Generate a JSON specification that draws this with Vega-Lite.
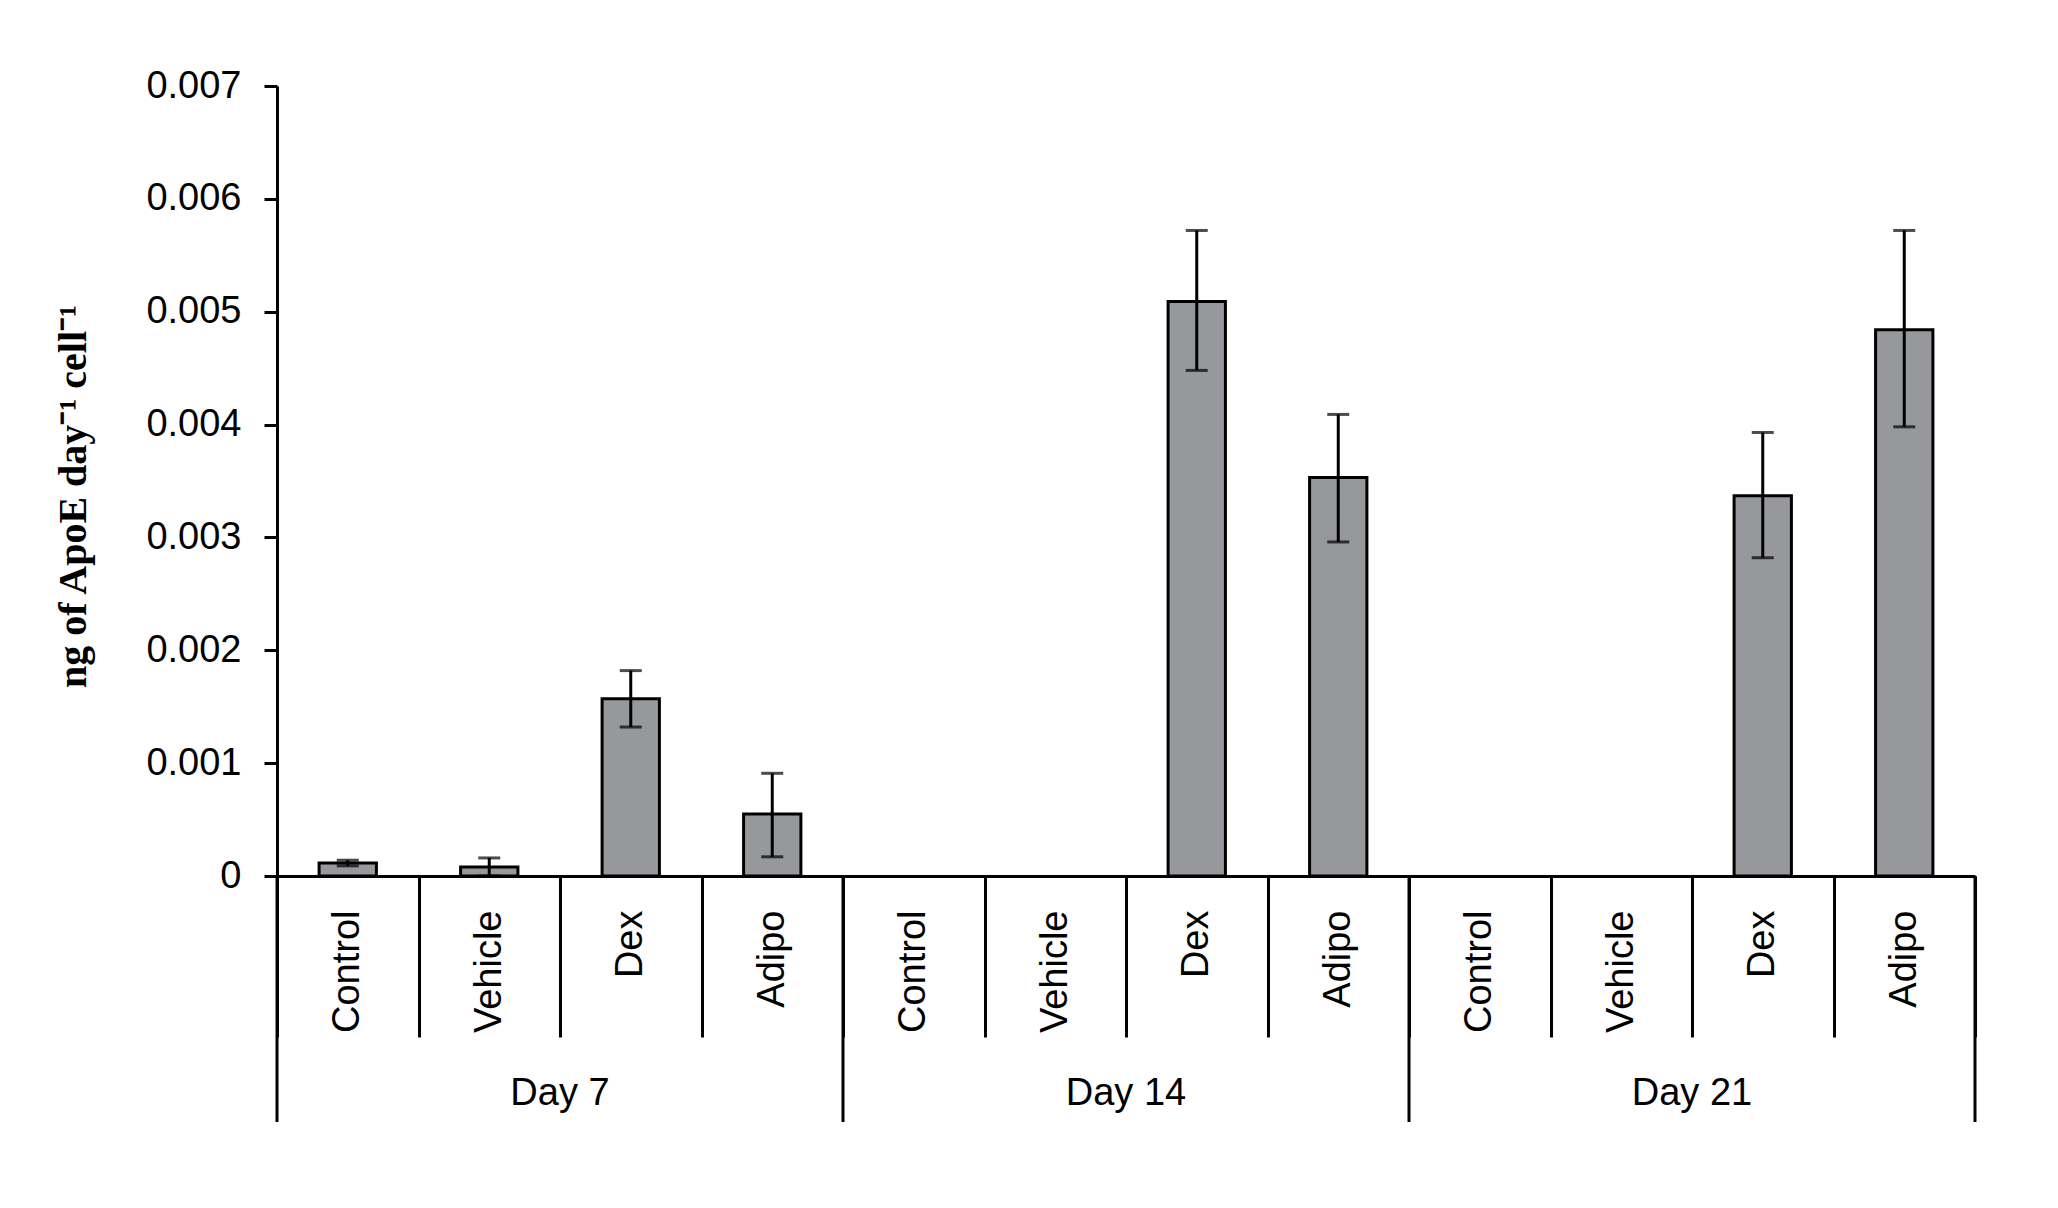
{
  "$schema": "https://vega.github.io/schema/vega-lite/v6.json",
  "width": 1698,
  "height": 790,
  "autosize": {"type": "none"},
  "padding": {"left": 277, "top": 86, "right": 83, "bottom": 332},
  "background": "white",
  "config": {
    "view": {"stroke": null},
    "font": "Liberation Sans"
  },
  "datasets": {
    "bars": [
      {"group": "Day 7 Control", "day": "Day 7", "treatment": "Control", "mean": 0.000115, "lower": 0.00009, "upper": 0.00014},
      {"group": "Day 7 Vehicle", "day": "Day 7", "treatment": "Vehicle", "mean": 0.00008, "lower": 0.0, "upper": 0.00016},
      {"group": "Day 7 Dex", "day": "Day 7", "treatment": "Dex", "mean": 0.00157, "lower": 0.00132, "upper": 0.00182},
      {"group": "Day 7 Adipo", "day": "Day 7", "treatment": "Adipo", "mean": 0.00055, "lower": 0.00017, "upper": 0.00091},
      {"group": "Day 14 Control", "day": "Day 14", "treatment": "Control", "mean": null, "lower": null, "upper": null},
      {"group": "Day 14 Vehicle", "day": "Day 14", "treatment": "Vehicle", "mean": null, "lower": null, "upper": null},
      {"group": "Day 14 Dex", "day": "Day 14", "treatment": "Dex", "mean": 0.00509, "lower": 0.00448, "upper": 0.00572},
      {"group": "Day 14 Adipo", "day": "Day 14", "treatment": "Adipo", "mean": 0.00353, "lower": 0.00296, "upper": 0.00409},
      {"group": "Day 21 Control", "day": "Day 21", "treatment": "Control", "mean": null, "lower": null, "upper": null},
      {"group": "Day 21 Vehicle", "day": "Day 21", "treatment": "Vehicle", "mean": null, "lower": null, "upper": null},
      {"group": "Day 21 Dex", "day": "Day 21", "treatment": "Dex", "mean": 0.00337, "lower": 0.00282, "upper": 0.00393},
      {"group": "Day 21 Adipo", "day": "Day 21", "treatment": "Adipo", "mean": 0.00484, "lower": 0.00398, "upper": 0.00572}
    ]
  },
  "data": {"name": "bars"},
  "layer": [
    {
      "mark": {"type": "bar", "fill": "#97989c", "stroke": "black", "strokeWidth": 3, "width": {"band": 0.405}},
      "encoding": {
        "x": {
          "field": "group",
          "type": "nominal",
          "title": null,
          "scale": {
            "domain": ["Day 7 Control", "Day 7 Vehicle", "Day 7 Dex", "Day 7 Adipo",
                       "Day 14 Control", "Day 14 Vehicle", "Day 14 Dex", "Day 14 Adipo",
                       "Day 21 Control", "Day 21 Vehicle", "Day 21 Dex", "Day 21 Adipo"],
            "paddingInner": 0,
            "paddingOuter": 0
          },
          "axis": {
            "labelExpr": "split(datum.label, ' ')[2]",
            "labelAngle": 270,
            "labelAlign": "right",
            "labelBaseline": "middle",
            "labelFontSize": 38,
            "labelColor": "black",
            "labelPadding": -127,
            "labelOverlap": false,
            "tickBand": "extent",
            "tickSize": 161,
            "tickWidth": 3,
            "tickColor": "black",
            "domainColor": "black",
            "domainWidth": 3
          }
        },
        "y": {
          "field": "mean",
          "type": "quantitative",
          "title": "ng of ApoE day⁻¹ cell⁻¹",
          "scale": {"domain": [0, 0.007], "nice": false},
          "axis": {
            "values": [0, 0.001, 0.002, 0.003, 0.004, 0.005, 0.006, 0.007],
            "labelExpr": "datum.value == 0 ? '0' : format(datum.value, '.3f')",
            "grid": false,
            "tickSize": 13,
            "tickWidth": 3,
            "tickColor": "black",
            "domainColor": "black",
            "domainWidth": 3,
            "labelFontSize": 38,
            "labelPadding": 23,
            "labelColor": "black",
            "titleFont": "Liberation Serif",
            "titleFontWeight": "bold",
            "titleFontSize": 40,
            "titleColor": "black",
            "titlePadding": 52,
            "titleY": 410
          }
        }
      }
    },
    {
      "mark": {
        "type": "errorbar",
        "ticks": {"size": 22, "thickness": 3, "color": "black"},
        "rule": {"strokeWidth": 3, "color": "black"}
      },
      "encoding": {
        "x": {"field": "group", "type": "nominal", "title": null},
        "y": {"field": "lower", "type": "quantitative", "title": "ng of ApoE day⁻¹ cell⁻¹"},
        "y2": {"field": "upper"}
      }
    },
    {
      "transform": [{"filter": "datum.treatment == 'Control'"}],
      "mark": {"type": "rule", "strokeWidth": 3, "color": "black"},
      "encoding": {
        "x": {"field": "group", "type": "nominal", "bandPosition": 0, "title": null},
        "y": {"datum": 0},
        "y2": {"datum": -0.00218}
      }
    },
    {
      "transform": [{"filter": "datum.group == 'Day 21 Adipo'"}],
      "mark": {"type": "rule", "strokeWidth": 3, "color": "black"},
      "encoding": {
        "x": {"field": "group", "type": "nominal", "bandPosition": 1, "title": null},
        "y": {"datum": 0},
        "y2": {"datum": -0.00218}
      }
    },
    {
      "transform": [{"filter": "datum.treatment == 'Dex'"}],
      "mark": {"type": "text", "fontSize": 38, "align": "center", "baseline": "middle", "color": "black"},
      "encoding": {
        "x": {"field": "group", "type": "nominal", "bandPosition": 0, "title": null},
        "y": {"datum": -0.00193},
        "text": {"field": "day"}
      }
    }
  ]
}
